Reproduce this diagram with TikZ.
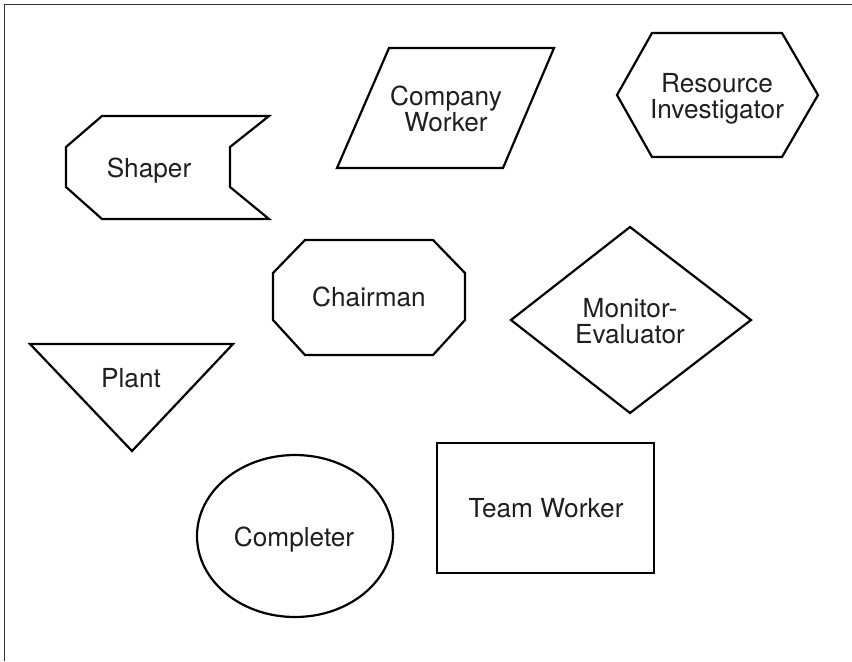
\documentclass[tikz,border=0pt]{standalone}
\usepackage{fontspec}
\setmainfont{TeX Gyre Heros}
\begin{document}
\begin{tikzpicture}[x=0.5pt, y=-0.5pt,
  every node/.style={font=\fontsize{13.1}{13}\selectfont, inner sep=0pt, align=center, anchor=base, text=black!88},
  role/.style={line width=1.1pt, line join=miter}]
  \useasboundingbox (0,0) rectangle (852,661);
  % frame
  \draw[line width=0.8pt, black!80] (4.5,661) -- (4.5,4.5) -- (852,4.5);

  % shaper
  \draw[role] (102,116) -- (269,116) -- (230,147) -- (230,187) -- (269,219) -- (102,219) -- (66,187) -- (66,147) -- cycle;
  \node (shaper) at (149,177) {Shaper};

  % company worker
  \draw[role] (389,48) -- (554,48) -- (503,168) -- (337,168) -- cycle;
  \node (company) at (446,131) {Company\\Worker};

  % resource investigator
  \draw[role] (617,95) -- (652,33) -- (782,33) -- (818,95) -- (782,157) -- (652,157) -- cycle;
  \node (resource) at (717,118) {Resource\\Investigator};

  % chairman
  \draw[role] (305,240) -- (433,240) -- (465,273) -- (465,320) -- (433,355) -- (305,355) -- (273,320) -- (273,273) -- cycle;
  \node (chairman) at (369,306) {Chairman};

  % monitor-evaluator
  \draw[role] (630,227) -- (751,320) -- (630,413) -- (511,320) -- cycle;
  \node (monitor) at (630,343) {Monitor-\\Evaluator};

  % plant
  \draw[role] (30,344) -- (233,344) -- (132,451) -- cycle;
  \node (plant) at (131,387) {Plant};

  % completer
  \draw[role] (295,536) ellipse [x radius=98, y radius=81];
  \node (completer) at (294,546) {Completer};

  % team worker
  \draw[role] (437,443) rectangle (654,573);
  \node (team) at (546,517) {Team Worker};
\end{tikzpicture}
\end{document}
